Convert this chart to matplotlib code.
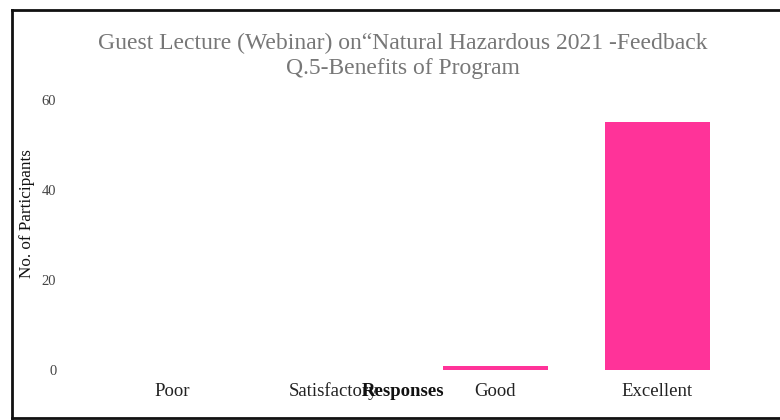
import matplotlib.pyplot as plt
from matplotlib.lines import Line2D

categories = ["Poor", "Satisfactory", "Good", "Excellent"]
participants = [0, 0, 1, 55]
y_ticks = [0, 20, 40, 60]

plt.rcParams["font.family"] = ["Liberation Serif", "DejaVu Serif"]

fig = plt.figure(figsize=(7.8, 4.2), dpi=100)
ax = fig.add_axes([91 / 780, 1 - 370 / 420, (738 - 91) / 780, 270 / 420])

ax.bar(range(len(categories)), participants, width=0.65, color="#ff3399")
ax.set_xlim(-0.5, len(categories) - 0.5)
ax.set_ylim(0, 60)
ax.set_yticks(y_ticks)
ax.set_xticks(range(len(categories)))
ax.set_xticklabels(categories, fontsize=13.5, color="#222222")
ax.tick_params(axis="y", length=0, pad=25, labelsize=10.5, labelcolor="#444444")
ax.tick_params(axis="x", length=0, pad=9)
for s in ax.spines.values():
    s.set_visible(False)

fig.text(403 / 780, 1 - 56 / 420,
         "Guest Lecture (Webinar) on\u201cNatural Hazardous 2021 -Feedback\nQ.5-Benefits of Program",
         ha="center", va="center", fontsize=17, color="#777777", linespacing=1.2)
fig.text(27 / 780, 1 - 214 / 420, "No. of Participants", rotation=90,
         ha="center", va="center", fontsize=12.3, color="#111111")
fig.text(403 / 780, 1 - 392 / 420, "Responses", ha="center", va="center",
         fontsize=13.5, fontweight="bold", color="#111111")

# frame lines on left, top and bottom
fig.add_artist(Line2D([12 / 780, 12 / 780], [2 / 420, 1 - 10 / 420], color="#111111", lw=2))
fig.add_artist(Line2D([12 / 780, 1], [1 - 10 / 420, 1 - 10 / 420], color="#111111", lw=2))
fig.add_artist(Line2D([12 / 780, 1], [2 / 420, 2 / 420], color="#111111", lw=2))

fig.savefig("out.png", dpi=100)
